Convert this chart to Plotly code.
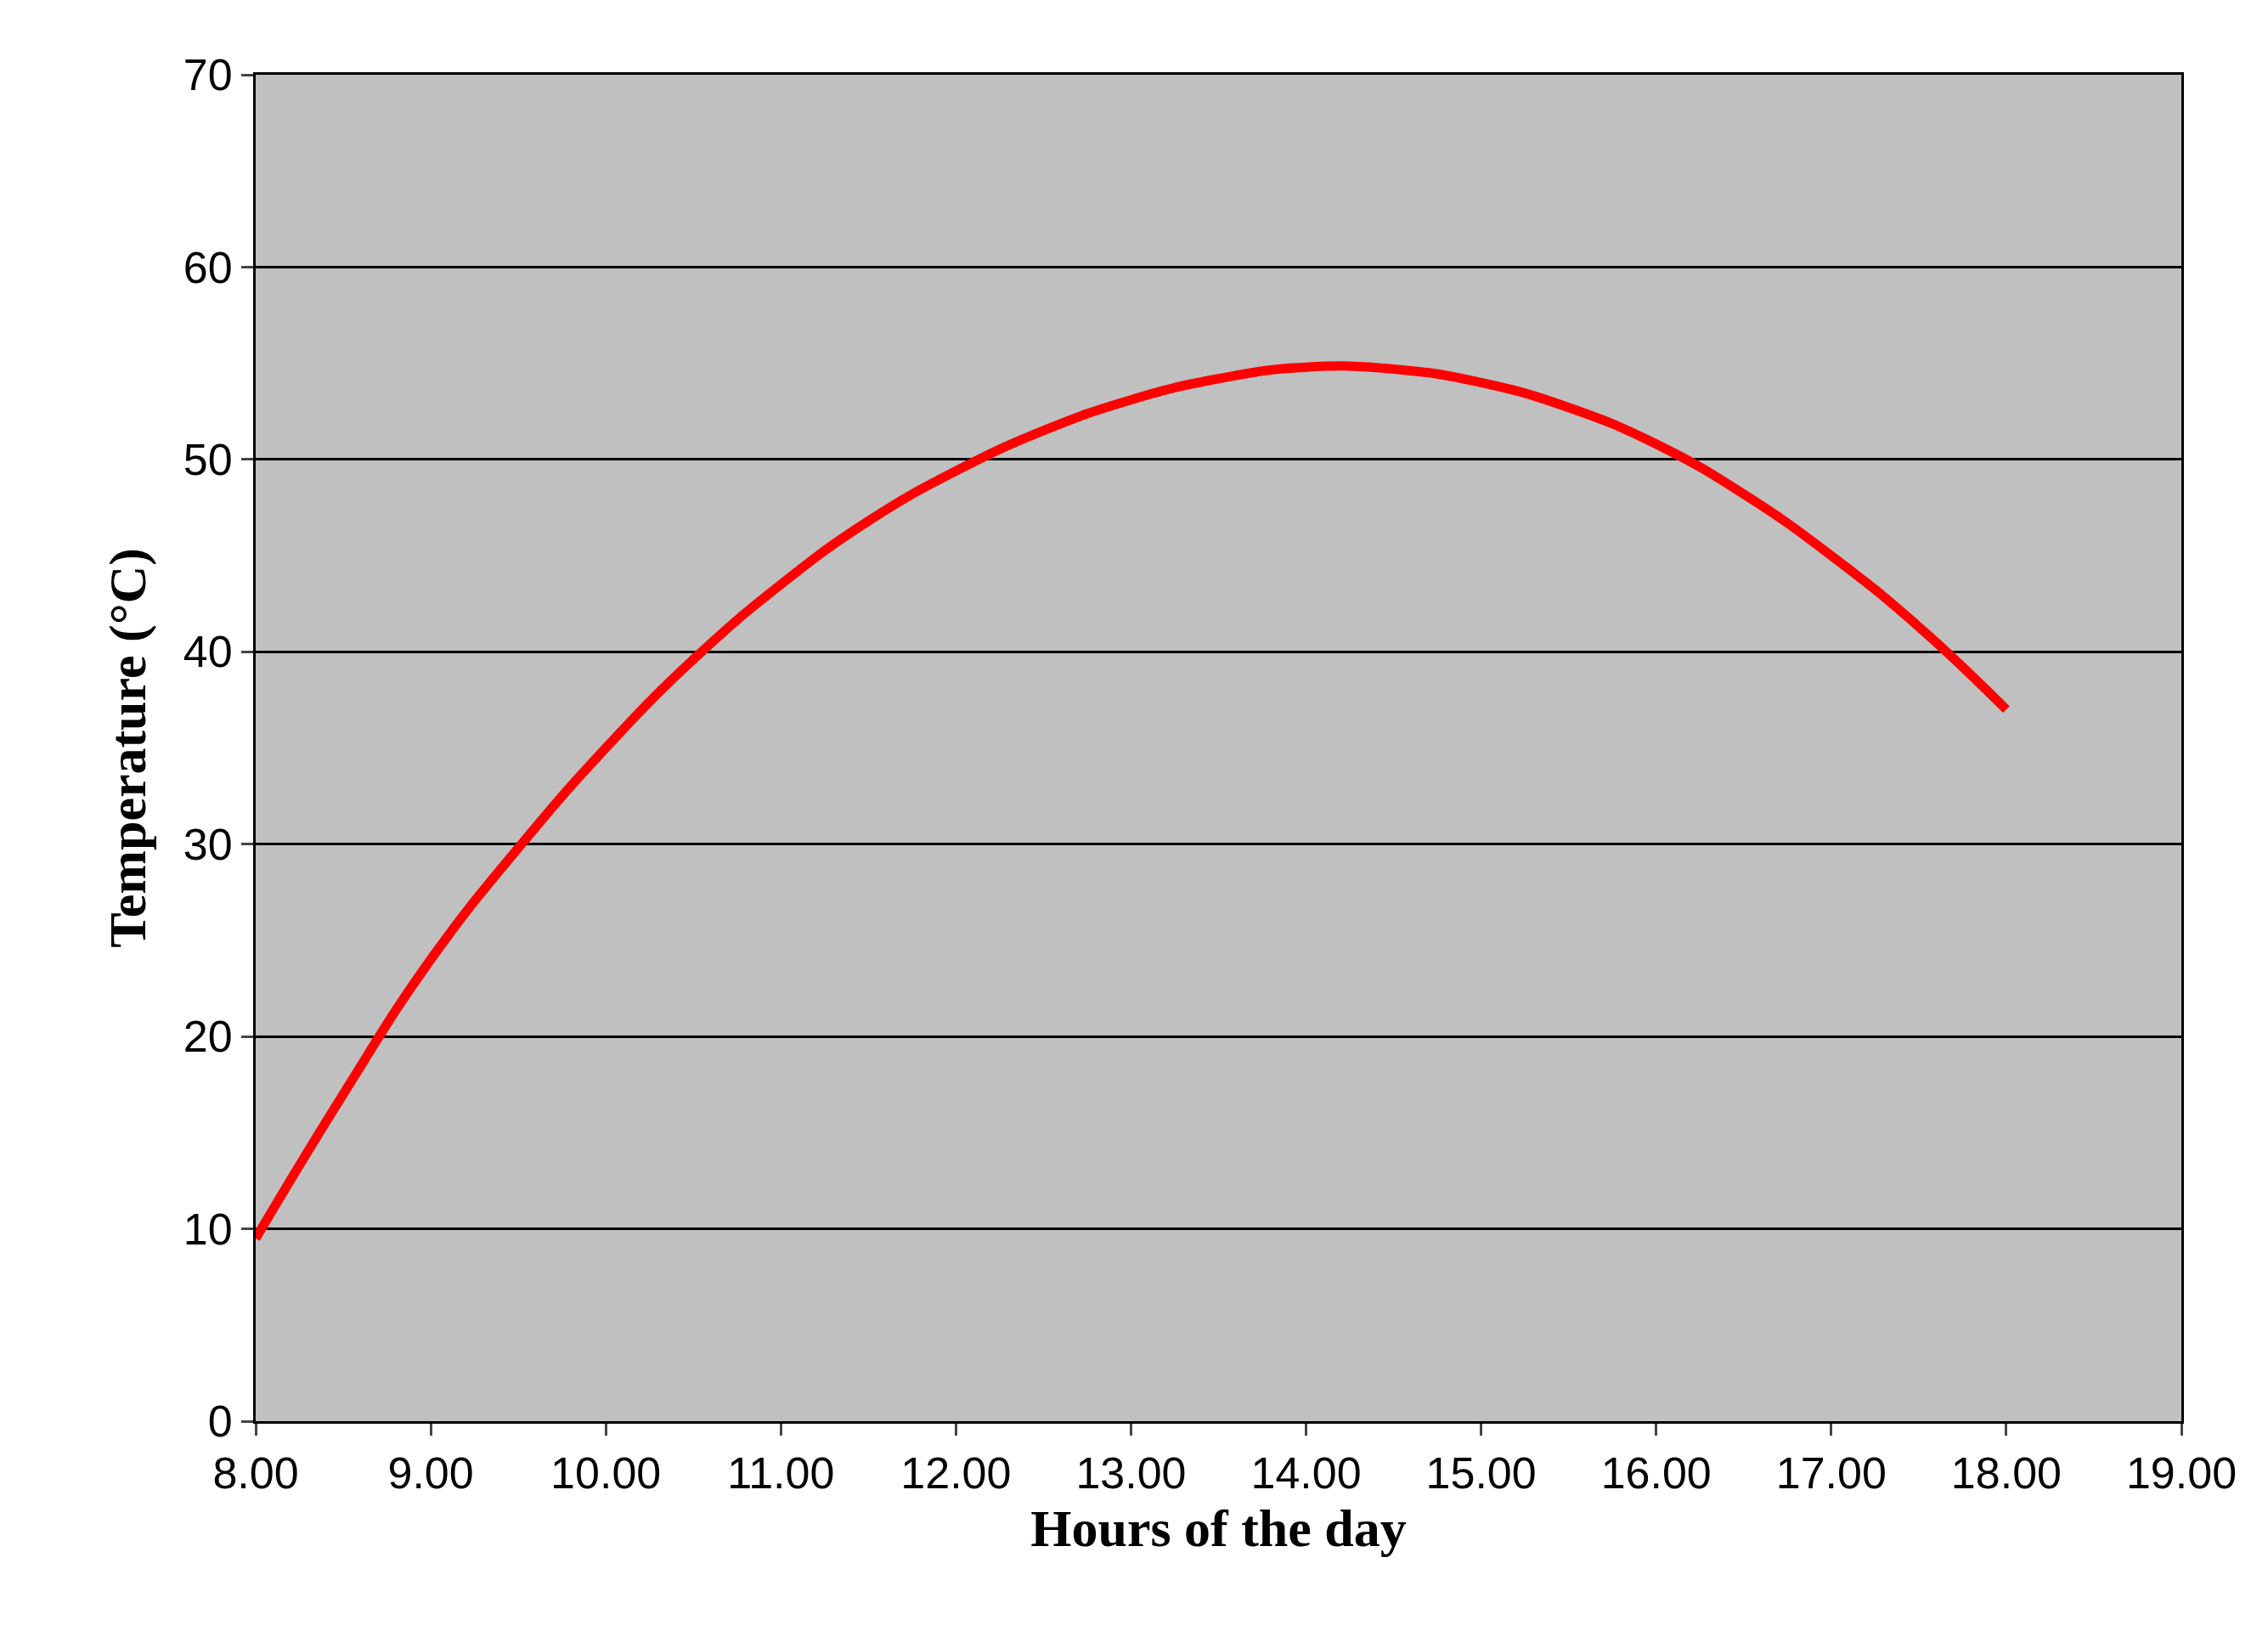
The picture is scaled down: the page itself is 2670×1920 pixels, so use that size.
import plotly.graph_objects as go

hours = [8, 8.5, 9, 9.5, 10, 10.5, 11, 11.5, 12, 12.5, 13, 13.5, 14, 14.5, 15, 15.5, 16, 16.5, 17, 17.5, 18]
temps = [9.5, 17.0, 24, 29.8, 35, 39.6, 43.5, 46.8, 49.4, 51.5, 53.1, 54.2, 54.8, 54.7, 54.0, 52.7, 50.8, 48.2, 45.0, 41.3, 37.0]
xticks = [8, 9, 10, 11, 12, 13, 14, 15, 16, 17, 18, 19]
xlabels = [f"{h}.00" for h in xticks]

fig = go.Figure(go.Scatter(x=hours, y=temps, mode="lines", line=dict(color="#ff0000", width=11, shape="spline", smoothing=1.3)))
fig.update_layout(
    width=2670, height=1920, paper_bgcolor="white", plot_bgcolor="#c0c0c0",
    margin=dict(l=293, r=110, t=80, b=255), showlegend=False,
    font=dict(family="Liberation Sans", size=52, color="black"),
)
fig.update_xaxes(range=[8, 19], tickvals=xticks, ticktext=xlabels, showgrid=False,
                 showline=True, linecolor="black", linewidth=3, mirror=True,
                 ticks="outside", ticklen=14, tickwidth=3,
                 title=dict(text="<b>Hours of the day</b>", font=dict(family="Liberation Serif", size=62), standoff=15))
fig.update_yaxes(range=[0, 70], dtick=10, showgrid=True, gridcolor="black", gridwidth=3,
                 showline=True, linecolor="black", linewidth=3, mirror=True,
                 ticks="outside", ticklen=14, tickwidth=3, zeroline=False,
                 title=dict(text="<b>Temperature (°C)</b>", font=dict(family="Liberation Serif", size=62), standoff=25))
fig.write_html("out.html")
